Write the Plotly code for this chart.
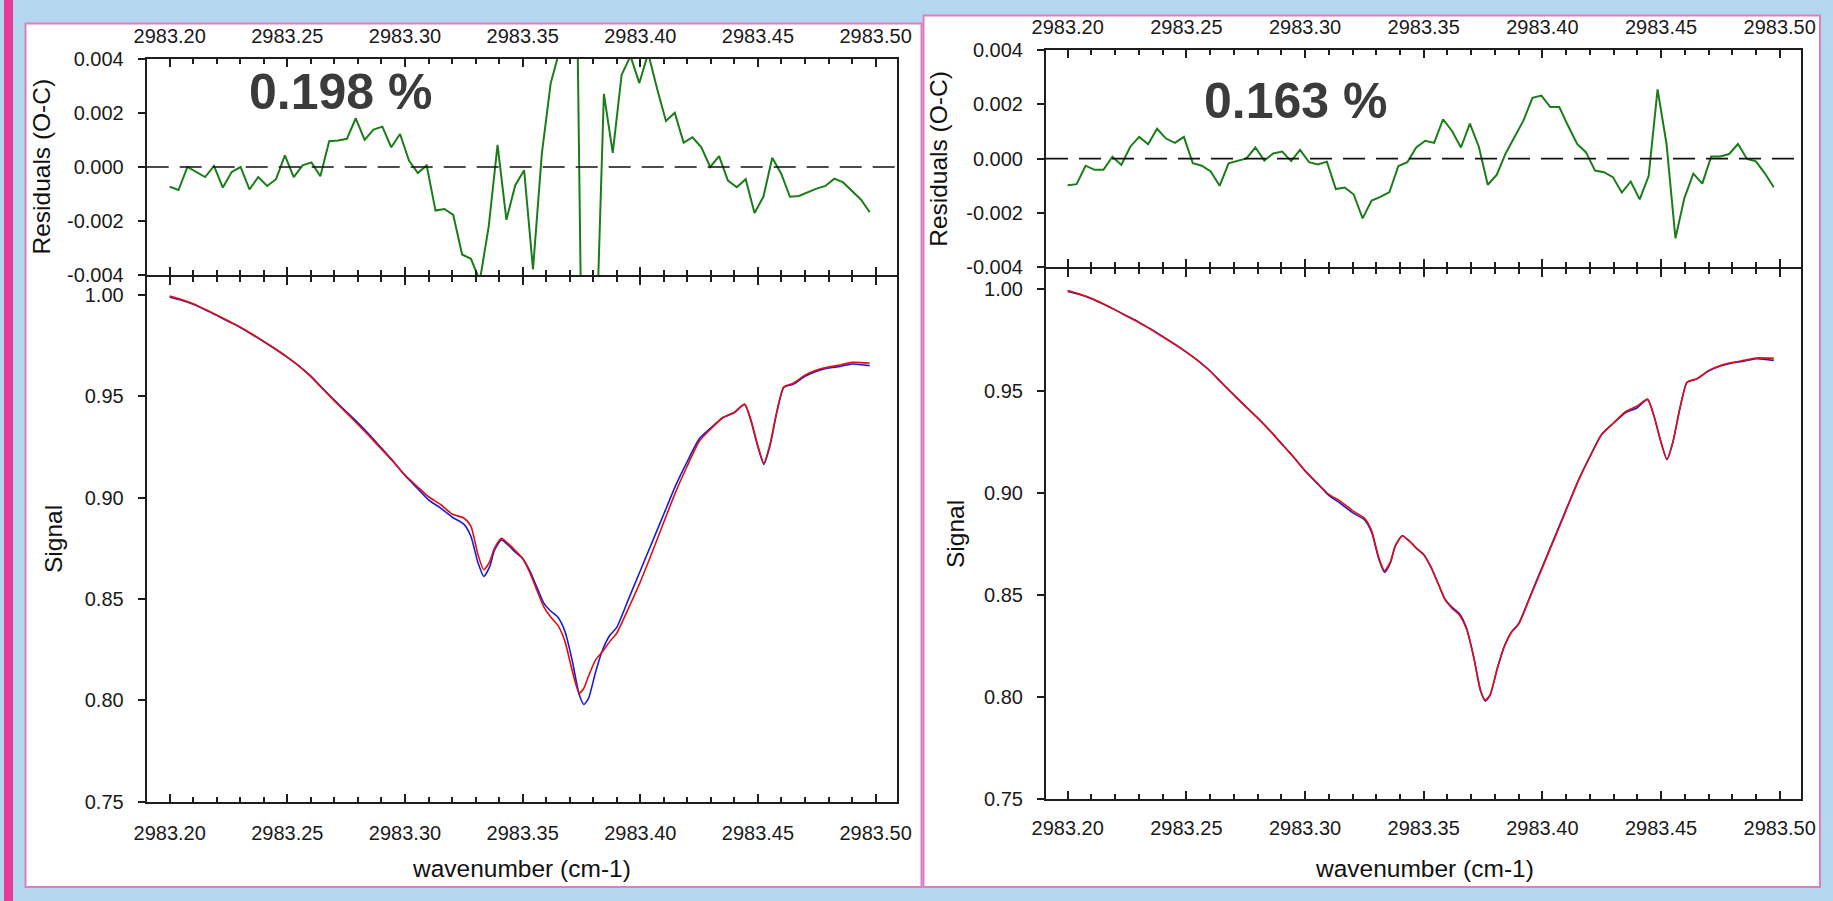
import numpy as np
import plotly.graph_objects as go

W, H = 1833, 901

# ---------------------------------------------------------------- data
# wavenumber grid of the observed / calculated spectra (cm-1)
wn = [2983.200, 2983.205, 2983.210, 2983.215, 2983.220, 2983.225, 2983.230,
      2983.235, 2983.240, 2983.245, 2983.250, 2983.255, 2983.260, 2983.265,
      2983.270, 2983.275, 2983.280, 2983.285, 2983.290, 2983.295, 2983.300,
      2983.305, 2983.310, 2983.315, 2983.320, 2983.325, 2983.328, 2983.331,
      2983.3335, 2983.336, 2983.338, 2983.341, 2983.344, 2983.347, 2983.350,
      2983.353, 2983.356, 2983.359, 2983.362, 2983.365, 2983.368, 2983.371,
      2983.374, 2983.376, 2983.378, 2983.381, 2983.384, 2983.387, 2983.390,
      2983.395, 2983.400, 2983.405, 2983.410, 2983.415, 2983.420, 2983.425,
      2983.430, 2983.435, 2983.440, 2983.4443, 2983.447, 2983.450, 2983.4525,
      2983.455, 2983.458, 2983.461, 2983.465, 2983.470, 2983.475, 2983.480,
      2983.485, 2983.490, 2983.4975]

# observed signal (same measurement in both panels)
observed = [0.9990, 0.9975, 0.9955, 0.9928, 0.9900, 0.9870, 0.9840,
            0.9806, 0.9770, 0.9733, 0.9693, 0.9650, 0.9600, 0.9540,
            0.9482, 0.9425, 0.9370, 0.9310, 0.9245, 0.9180, 0.9110,
            0.9050, 0.8990, 0.8950, 0.8905, 0.8870, 0.8810, 0.8680,
            0.8612, 0.8660, 0.8740, 0.8792, 0.8765, 0.8730, 0.8700,
            0.8640, 0.8560, 0.8480, 0.8440, 0.8410, 0.8340, 0.8200,
            0.8030, 0.7980, 0.8010, 0.8140, 0.8250, 0.8320, 0.8360,
            0.8500, 0.8640, 0.8780, 0.8920, 0.9060, 0.9180, 0.9290,
            0.9345, 0.9395, 0.9420, 0.9460, 0.9380, 0.9250, 0.9165,
            0.9250, 0.9420, 0.9545, 0.9560, 0.9600, 0.9625, 0.9640,
            0.9648, 0.9660, 0.9652]

# calculated signal, first fit (0.198 %)
calc_a = [0.9995, 0.9978, 0.9957, 0.9930, 0.9902, 0.9872, 0.9842,
          0.9808, 0.9772, 0.9734, 0.9694, 0.9650, 0.9598, 0.9538,
          0.9478, 0.9420, 0.9362, 0.9302, 0.9240, 0.9178, 0.9112,
          0.9058, 0.9005, 0.8968, 0.8920, 0.8900, 0.8860, 0.8720,
          0.8645, 0.8685, 0.8750, 0.8800, 0.8772, 0.8738, 0.8700,
          0.8632, 0.8545, 0.8462, 0.8410, 0.8370, 0.8290, 0.8150,
          0.8036, 0.8060, 0.8120, 0.8200, 0.8242, 0.8290, 0.8332,
          0.8455, 0.8585, 0.8730, 0.8880, 0.9028, 0.9158, 0.9278,
          0.9340, 0.9395, 0.9422, 0.9462, 0.9385, 0.9255, 0.9172,
          0.9258, 0.9425, 0.9548, 0.9565, 0.9605, 0.9630, 0.9645,
          0.9655, 0.9668, 0.9665]

# calculated signal, second fit (0.163 %)
calc_b = [0.9995, 0.9978, 0.9957, 0.9930, 0.9900, 0.9868, 0.9838,
          0.9804, 0.9768, 0.9731, 0.9693, 0.9650, 0.9600, 0.9541,
          0.9483, 0.9426, 0.9370, 0.9310, 0.9245, 0.9180, 0.9112,
          0.9052, 0.8995, 0.8960, 0.8915, 0.8878, 0.8818, 0.8688,
          0.8620, 0.8665, 0.8742, 0.8792, 0.8765, 0.8730, 0.8698,
          0.8638, 0.8560, 0.8478, 0.8435, 0.8403, 0.8335, 0.8200,
          0.8030, 0.7985, 0.8012, 0.8140, 0.8248, 0.8318, 0.8358,
          0.8495, 0.8635, 0.8775, 0.8916, 0.9057, 0.9178, 0.9288,
          0.9345, 0.9400, 0.9428, 0.9462, 0.9380, 0.9250, 0.9168,
          0.9252, 0.9420, 0.9545, 0.9562, 0.9602, 0.9627, 0.9642,
          0.9652, 0.9664, 0.9662]

# residual sampling points (cm-1)
res_wn = np.linspace(2983.200, 2983.4975, 80)

resid_a = [-0.00073, -0.00085, 0.00000, -0.00020, -0.00037, 0.00004, -0.00076,
           -0.00018, 0.00000, -0.00083, -0.00037, -0.00070, -0.00045, 0.00043,
           -0.00037, 0.00006, 0.00017, -0.00034, 0.00095, 0.00098, 0.00104,
           0.00180, 0.00100, 0.00138, 0.00149, 0.00073, 0.00122, 0.00024,
           -0.00022, 0.00006, -0.00161, -0.00155, -0.00177, -0.00323, -0.00339,
           -0.00420, -0.00220, 0.00082, -0.00195, -0.00067, -0.00012, -0.00378,
           0.00050, 0.00310, 0.00430, 0.00700, 0.00550, -0.02000, -0.00800,
           0.00270, 0.00052, 0.00340, 0.00410, 0.00310, 0.00420, 0.00290,
           0.00170, 0.00200, 0.00090, 0.00110, 0.00073, 0.00000, 0.00040,
           -0.00050, -0.00075, -0.00045, -0.00170, -0.00110, 0.00034, -0.00024,
           -0.00110, -0.00107, -0.00094, -0.00080, -0.00070, -0.00043, -0.00057,
           -0.00090, -0.00120, -0.00167]

resid_b = [-0.00098, -0.00094, -0.00026, -0.00041, -0.00041, 0.00007, -0.00023,
           0.00044, 0.00080, 0.00053, 0.00110, 0.00074, 0.00058, 0.00080,
           -0.00017, -0.00026, -0.00047, -0.00100, -0.00017, -0.00007, 0.00001,
           0.00041, -0.00007, 0.00019, 0.00026, -0.00009, 0.00032, -0.00013,
           -0.00021, -0.00011, -0.00112, -0.00106, -0.00132, -0.00220, -0.00154,
           -0.00141, -0.00123, -0.00027, -0.00013, 0.00041, 0.00066, 0.00058,
           0.00145, 0.00102, 0.00041, 0.00129, 0.00044, -0.00096, -0.00060,
           0.00019, 0.00080, 0.00141, 0.00224, 0.00232, 0.00190, 0.00190,
           0.00120, 0.00054, 0.00023, -0.00044, -0.00050, -0.00068, -0.00125,
           -0.00084, -0.00150, -0.00064, 0.00255, 0.00054, -0.00293, -0.00145,
           -0.00055, -0.00092, 0.00008, 0.00008, 0.00017, 0.00054, -0.00001,
           -0.00010, -0.00054, -0.00105]

fit_labels = ["0.198 %", "0.163 %"]

x_tickvals = [2983.20, 2983.25, 2983.30, 2983.35, 2983.40, 2983.45, 2983.50]
x_ticktext = ["2983.20", "2983.25", "2983.30", "2983.35", "2983.40", "2983.45", "2983.50"]
x_minorvals = [2983.20 + 0.01 * k for k in range(31)]
res_tickvals = [-0.004, -0.002, 0.0, 0.002, 0.004]
res_ticktext = ["-0.004", "-0.002", "0.000", "0.002", "0.004"]
sig_tickvals = [0.75, 0.80, 0.85, 0.90, 0.95, 1.00]
sig_ticktext = ["0.75", "0.80", "0.85", "0.90", "0.95", "1.00"]

# ---------------------------------------------------------------- styling
BG = "#b4d6ee"
STRIPE = "#e83a99"
FRAME = "#e07cc0"
AXIS = "#1e1e1e"
GREEN = "#1a7d1a"
BLUE = "#1c1cd8"
RED = "#e01010"
FAMILY = "Liberation Sans, Arial, sans-serif"
TICKFONT = dict(family=FAMILY, size=20, color="#1a1a1a")
TITLEFONT = dict(family=FAMILY, size=24.5, color="#111111")


def px(x):
    return x / W


def py(y):
    return 1 - y / H


def xaxis_style(dom, rng, anchor, side, standoff):
    return dict(domain=dom, range=rng, anchor=anchor, side=side, automargin=False,
                showline=True, linecolor=AXIS, linewidth=2, mirror="ticks",
                ticks="inside", ticklen=8, tickwidth=1.8, tickcolor=AXIS,
                tickmode="array", tickvals=x_tickvals, ticktext=x_ticktext,
                tickfont=TICKFONT, ticklabelstandoff=standoff,
                minor=dict(tickmode="array", tickvals=x_minorvals, ticks="inside",
                           ticklen=5, tickwidth=1.5, tickcolor=AXIS, showgrid=False),
                showgrid=False, zeroline=False)


def yaxis_style(dom, rng, anchor, vals, text):
    return dict(domain=dom, range=rng, anchor=anchor, automargin=False,
                showline=True, linecolor=AXIS, linewidth=2, mirror=True,
                ticks="outside", ticklen=7, tickwidth=1.8, tickcolor=AXIS,
                tickmode="array", tickvals=vals, ticktext=text,
                tickfont=TICKFONT, ticklabelstandoff=10,
                showgrid=False, zeroline=False)


fig = go.Figure()

# left panel: first fit
fig.add_trace(go.Scatter(x=wn, y=observed, xaxis="x", yaxis="y", mode="lines",
                         line=dict(color=BLUE, width=1.6, shape="spline", smoothing=0.6),
                         name="observed"))
fig.add_trace(go.Scatter(x=wn, y=calc_a, xaxis="x", yaxis="y", mode="lines",
                         line=dict(color=RED, width=1.6, shape="spline", smoothing=0.6),
                         name="calculated"))
fig.add_trace(go.Scatter(x=res_wn, y=resid_a, xaxis="x2", yaxis="y2", mode="lines",
                         line=dict(color=GREEN, width=2), name="O-C"))

# right panel: second fit
fig.add_trace(go.Scatter(x=wn, y=observed, xaxis="x3", yaxis="y3", mode="lines",
                         line=dict(color=BLUE, width=1.6, shape="spline", smoothing=0.6),
                         name="observed"))
fig.add_trace(go.Scatter(x=wn, y=calc_b, xaxis="x3", yaxis="y3", mode="lines",
                         line=dict(color=RED, width=1.6, shape="spline", smoothing=0.6),
                         name="calculated"))
fig.add_trace(go.Scatter(x=res_wn, y=resid_b, xaxis="x4", yaxis="y4", mode="lines",
                         line=dict(color=GREEN, width=2), name="O-C"))

# plot-area edges sit 1 px inside the drawn axis lines
xl = [px(146.7), px(897.3)]
xr = [px(1046), px(1801.3)]
rng_l = [2983.19023, 2983.50922]
rng_r = [2983.19086, 2983.50910]

fig.update_layout(
    width=W, height=H, margin=dict(l=0, r=0, t=0, b=0, pad=0),
    paper_bgcolor=BG, plot_bgcolor="white", showlegend=False,
    xaxis=xaxis_style(xl, rng_l, "y", "bottom", 12),
    yaxis=yaxis_style([py(801.7), py(277.3)], [0.75, 1.0088], "x", sig_tickvals, sig_ticktext),
    xaxis2=xaxis_style(xl, rng_l, "y2", "top", 6),
    yaxis2=yaxis_style([py(275.3), py(58.7)], [-0.004, 0.004], "x2", res_tickvals, res_ticktext),
    xaxis3=xaxis_style(xr, rng_r, "y3", "bottom", 10),
    yaxis3=yaxis_style([py(799), py(269.3)], [0.75, 1.0099], "x3", sig_tickvals, sig_ticktext),
    xaxis4=xaxis_style(xr, rng_r, "y4", "top", 6),
    yaxis4=yaxis_style([py(267.3), py(50)], [-0.004, 0.004], "x4", res_tickvals, res_ticktext),
)

shapes = [
    # pink stripe on the left edge
    dict(type="rect", xref="paper", yref="paper", x0=px(4), x1=px(13), y0=0, y1=1,
         fillcolor=STRIPE, line=dict(width=0), layer="below"),
    # white frames of the two panels
    dict(type="rect", xref="paper", yref="paper", x0=px(25.5), x1=px(921.5),
         y0=py(887), y1=py(23.5), fillcolor="white", line=dict(color=FRAME, width=2),
         layer="below"),
    dict(type="rect", xref="paper", yref="paper", x0=px(923.5), x1=px(1820),
         y0=py(887), y1=py(15.5), fillcolor="white", line=dict(color=FRAME, width=2),
         layer="below"),
]
# dashed zero lines in the residual plots
for xa, ya in (("x2", "y2"), ("x4", "y4")):
    shapes.append(dict(type="line", xref=f"{xa} domain", yref=ya, x0=0, x1=1, y0=0, y1=0,
                       line=dict(color="#111111", width=1.6, dash="22px,11px")))
fig.update_layout(shapes=shapes)

annotations = []
for xc, res_y, sig_y, sig_x in ((40.5, 167, 539.5, 53.5), (938.3, 158.5, 534, 955)):
    annotations.append(dict(text="Residuals (O-C)", x=px(xc), y=py(res_y), xref="paper",
                            yref="paper", textangle=-90, showarrow=False, font=TITLEFONT,
                            xanchor="center", yanchor="middle"))
    annotations.append(dict(text="Signal", x=px(sig_x), y=py(sig_y), xref="paper",
                            yref="paper", textangle=-90, showarrow=False, font=TITLEFONT,
                            xanchor="center", yanchor="middle"))
for xc in (521, 1424):
    annotations.append(dict(text="wavenumber (cm-1)", x=px(xc), y=py(868), xref="paper",
                            yref="paper", showarrow=False, font=TITLEFONT,
                            xanchor="center", yanchor="middle"))
for label, (xc, yc) in zip(fit_labels, ((340, 92.5), (1295, 101))):
    annotations.append(dict(text=f"<b>{label}</b>", x=px(xc), y=py(yc), xref="paper",
                            yref="paper", showarrow=False,
                            font=dict(family=FAMILY, size=50, color="#3b3b3b"),
                            xanchor="center", yanchor="middle"))
fig.update_layout(annotations=annotations)

fig.write_html("out.html")
